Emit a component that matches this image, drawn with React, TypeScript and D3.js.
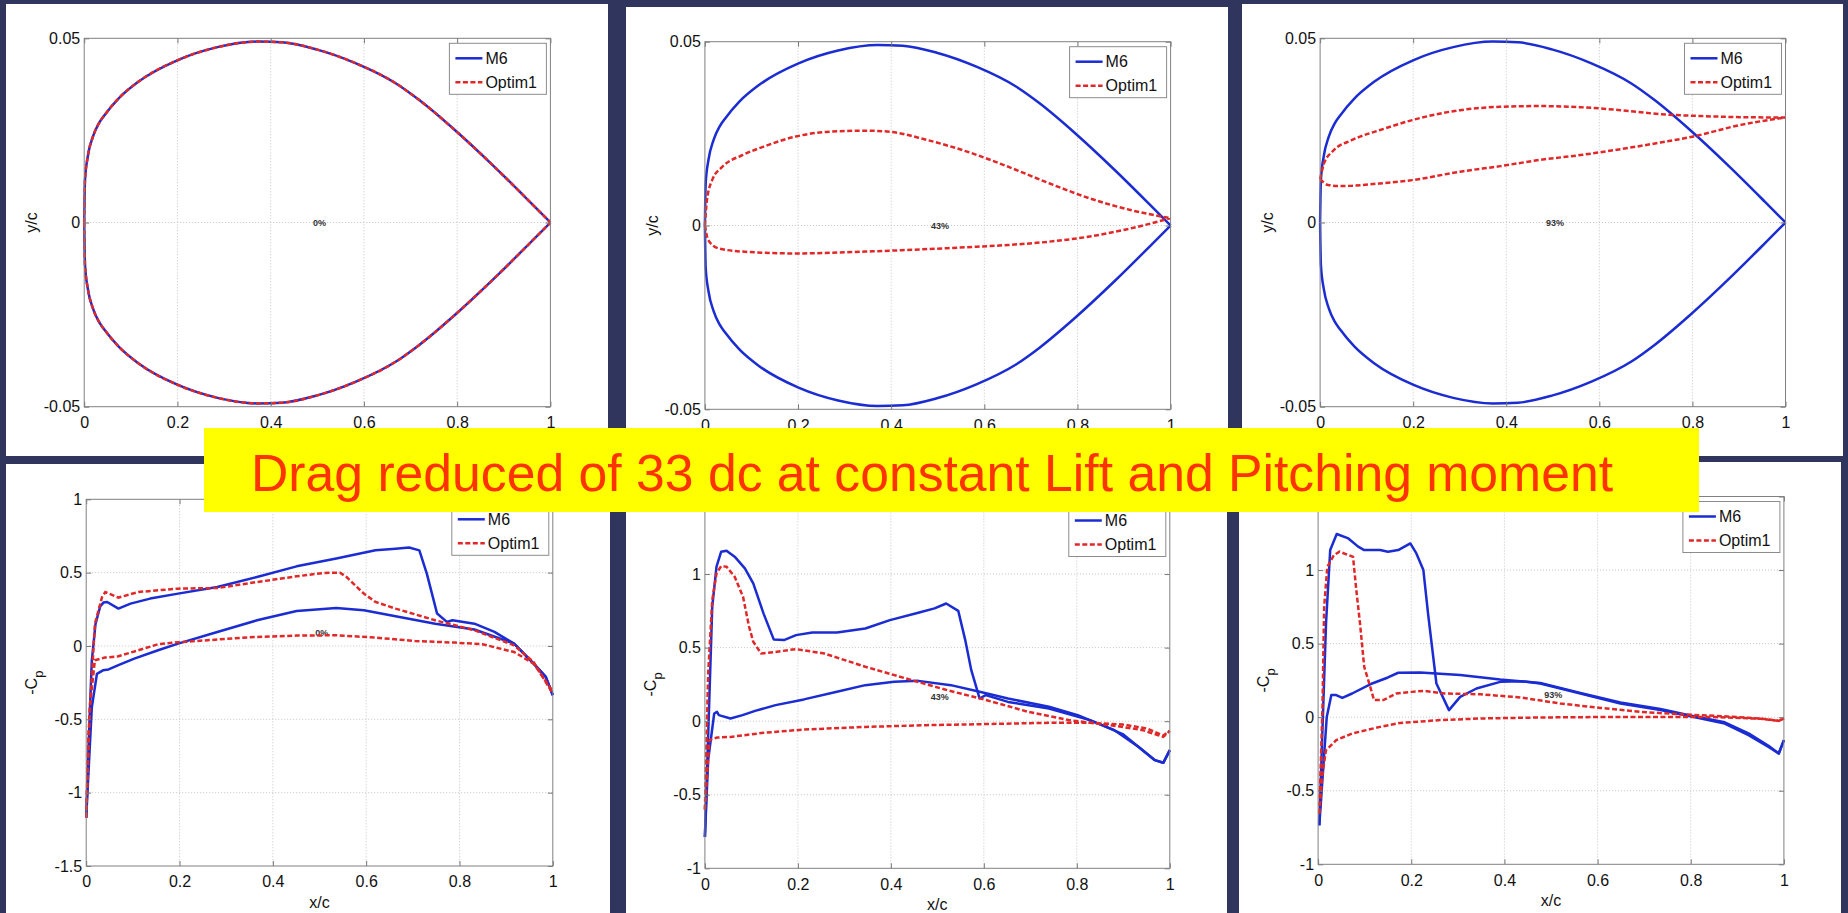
import React, {useEffect, useRef} from 'react';
import * as d3 from 'd3';

type Pt = [number, number];

// ---- section shapes, y/c against x/c (M6 section is the same at every station) ----
const m6Upper: Pt[] = [
  [0, 0], [0.0017, 0.0115], [0.0077, 0.0179], [0.0187, 0.0233], [0.0315, 0.0269], [0.044, 0.0292],
  [0.074, 0.0337], [0.116, 0.0382], [0.201, 0.0441], [0.286, 0.0476], [0.371, 0.0491], [0.425, 0.0489],
  [0.498, 0.047], [0.583, 0.0432], [0.668, 0.0378], [0.718, 0.0333], [0.795, 0.0251], [0.88, 0.0151],
  [0.956, 0.0056], [1, 0]
];
const m6Lower: Pt[] = [
  [0, 0], [0.0017, -0.0115], [0.0077, -0.0179], [0.0187, -0.0233], [0.0315, -0.0269], [0.044, -0.0292],
  [0.074, -0.0337], [0.116, -0.0382], [0.201, -0.0441], [0.286, -0.0476], [0.371, -0.0491], [0.425, -0.0489],
  [0.498, -0.047], [0.583, -0.0432], [0.668, -0.0378], [0.718, -0.0333], [0.795, -0.0251], [0.88, -0.0151],
  [0.956, -0.0056], [1, 0]
];
// root (0%) was not changed: Optim1 = M6 there
const opt43Upper: Pt[] = [
  [0, 0], [0.0044, 0.0069], [0.0158, 0.0124], [0.0377, 0.016], [0.0815, 0.0192], [0.125, 0.0214],
  [0.195, 0.0242], [0.266, 0.0255], [0.344, 0.0258], [0.397, 0.0255], [0.476, 0.0233], [0.563, 0.0201],
  [0.651, 0.016], [0.739, 0.0115], [0.826, 0.0074], [0.914, 0.0042], [1, 0.002]
];
const opt43Lower: Pt[] = [
  [0, 0], [0.007, -0.0039], [0.029, -0.0062], [0.0815, -0.0071], [0.195, -0.0076], [0.344, -0.0071],
  [0.563, -0.0059], [0.651, -0.0053], [0.739, -0.0044], [0.826, -0.003], [0.914, -0.0008], [1, 0.002]
];
const opt93Upper: Pt[] = [
  [0, 0.0118], [0.0086, 0.0161], [0.026, 0.0192], [0.069, 0.0224], [0.129, 0.0251], [0.198, 0.0278],
  [0.301, 0.0305], [0.387, 0.0314], [0.473, 0.0316], [0.559, 0.0313], [0.645, 0.0305], [0.731, 0.0294],
  [0.818, 0.0289], [0.904, 0.0286], [1, 0.0285]
];
const opt93Lower: Pt[] = [
  [0, 0.0118], [0.017, 0.0102], [0.043, 0.0099], [0.129, 0.0106], [0.198, 0.0115], [0.301, 0.0138],
  [0.387, 0.0153], [0.473, 0.017], [0.559, 0.0183], [0.645, 0.0199], [0.731, 0.0217], [0.8, 0.0233],
  [0.904, 0.0265], [1, 0.0285]
];

// ---- pressure, -Cp against x/c ----
const cp0M6Up: Pt[] = [
  [0, -1.17], [0.006, -0.6], [0.012, -0.1], [0.02, 0.15], [0.03, 0.27], [0.037, 0.296], [0.045, 0.3],
  [0.069, 0.255], [0.095, 0.289], [0.137, 0.323], [0.197, 0.357], [0.281, 0.402], [0.366, 0.47],
  [0.451, 0.543], [0.536, 0.596], [0.62, 0.652], [0.663, 0.663], [0.692, 0.671], [0.714, 0.652],
  [0.73, 0.493], [0.752, 0.221], [0.773, 0.164], [0.785, 0.175], [0.832, 0.152], [0.875, 0.096],
  [0.917, 0.016], [0.959, -0.12], [0.985, -0.211], [1, -0.336]
];
const cp0M6Low: Pt[] = [
  [0, -1.17], [0.012, -0.42], [0.023, -0.19], [0.036, -0.166], [0.048, -0.16], [0.069, -0.13],
  [0.103, -0.086], [0.154, -0.029], [0.197, 0.016], [0.281, 0.095], [0.366, 0.175], [0.451, 0.239],
  [0.536, 0.259], [0.595, 0.243], [0.663, 0.202], [0.748, 0.152], [0.832, 0.112], [0.917, 0.016],
  [0.959, -0.12], [0.985, -0.211], [1, -0.336]
];
const cp0OptUp: Pt[] = [
  [0, -1.17], [0.005, -0.6], [0.0187, 0.152], [0.034, 0.334], [0.041, 0.368], [0.069, 0.33],
  [0.112, 0.368], [0.197, 0.391], [0.281, 0.395], [0.366, 0.436], [0.451, 0.475], [0.51, 0.498],
  [0.544, 0.5], [0.558, 0.47], [0.595, 0.357], [0.62, 0.3], [0.663, 0.255], [0.748, 0.175],
  [0.832, 0.107], [0.917, 0.005], [0.959, -0.11], [1, -0.325]
];
const cp0OptLow: Pt[] = [
  [0, -1.17], [0.008, -0.4], [0.0187, -0.097], [0.04, -0.079], [0.069, -0.07], [0.112, -0.029],
  [0.154, 0.012], [0.197, 0.025], [0.281, 0.044], [0.366, 0.062], [0.451, 0.071], [0.536, 0.073],
  [0.62, 0.057], [0.705, 0.034], [0.79, 0.023], [0.849, 0.012], [0.917, -0.041], [0.959, -0.12], [1, -0.31]
];

const cp43M6Up: Pt[] = [
  [0, -0.787], [0.008, 0], [0.0158, 0.778], [0.025, 1.05], [0.035, 1.152], [0.0465, 1.159], [0.064, 1.118],
  [0.086, 1.039], [0.104, 0.937], [0.126, 0.733], [0.148, 0.556], [0.17, 0.551], [0.196, 0.585],
  [0.231, 0.603], [0.284, 0.603], [0.345, 0.63], [0.398, 0.687], [0.459, 0.737], [0.494, 0.767],
  [0.519, 0.8], [0.545, 0.75], [0.56, 0.551], [0.573, 0.347], [0.591, 0.154], [0.604, 0.177],
  [0.652, 0.131], [0.74, 0.086], [0.828, 0.007], [0.881, -0.061], [0.933, -0.175], [0.968, -0.265],
  [0.986, -0.283], [1, -0.197]
];
const cp43M6Low: Pt[] = [
  [0, -0.787], [0.007, -0.265], [0.02, 0.052], [0.026, 0.063], [0.03, 0.041], [0.055, 0.018],
  [0.081, 0.041], [0.108, 0.07], [0.152, 0.109], [0.213, 0.148], [0.284, 0.2], [0.345, 0.245],
  [0.407, 0.268], [0.459, 0.274], [0.529, 0.245], [0.591, 0.2], [0.652, 0.154], [0.74, 0.098],
  [0.802, 0.041], [0.854, -0.027], [0.9, -0.09], [0.933, -0.175], [0.968, -0.265], [0.986, -0.283], [1, -0.197]
];
const cp43OptUp: Pt[] = [
  [0, -0.6], [0.007, 0.324], [0.0158, 0.823], [0.025, 1.005], [0.035, 1.054], [0.0465, 1.05],
  [0.064, 0.982], [0.082, 0.846], [0.095, 0.642], [0.104, 0.54], [0.121, 0.46], [0.152, 0.471],
  [0.196, 0.49], [0.257, 0.46], [0.345, 0.37], [0.433, 0.29], [0.521, 0.211], [0.6, 0.148],
  [0.696, 0.063], [0.784, 0.007], [0.872, -0.027], [0.942, -0.061], [0.986, -0.107], [1, -0.066]
];
const cp43OptLow: Pt[] = [
  [0, -0.6], [0.0097, -0.129], [0.026, -0.111], [0.055, -0.107], [0.126, -0.079], [0.213, -0.057],
  [0.345, -0.039], [0.477, -0.027], [0.6, -0.02], [0.74, -0.011], [0.828, -0.011], [0.898, -0.022],
  [0.951, -0.05], [0.986, -0.098], [1, -0.066]
];

const cp93M6Up: Pt[] = [
  [0.0026, -0.735], [0.011, 0.07], [0.017, 0.637], [0.026, 1.136], [0.04, 1.245], [0.065, 1.215],
  [0.086, 1.159], [0.099, 1.136], [0.133, 1.136], [0.15, 1.125], [0.172, 1.136], [0.198, 1.181],
  [0.211, 1.113], [0.226, 1.0], [0.236, 0.705], [0.254, 0.229], [0.281, 0.048], [0.305, 0.138],
  [0.34, 0.195], [0.391, 0.24], [0.434, 0.245], [0.477, 0.229], [0.563, 0.161], [0.649, 0.093],
  [0.735, 0.048], [0.804, 0.002], [0.873, -0.043], [0.924, -0.122], [0.967, -0.202], [0.989, -0.247], [1, -0.156]
];
const cp93M6Low: Pt[] = [
  [0.0026, -0.735], [0.012, -0.3], [0.0186, 0.002], [0.0284, 0.15], [0.039, 0.15], [0.052, 0.131],
  [0.073, 0.161], [0.116, 0.229], [0.15, 0.27], [0.172, 0.302], [0.219, 0.304], [0.305, 0.286],
  [0.391, 0.256], [0.434, 0.245], [0.477, 0.232], [0.563, 0.165], [0.649, 0.1], [0.735, 0.055],
  [0.804, 0.008], [0.873, -0.035], [0.924, -0.11], [0.967, -0.195], [0.989, -0.247], [1, -0.156]
];
const cp93OptUp: Pt[] = [
  [0.0026, -0.655], [0.0094, 0.07], [0.013, 0.75], [0.0198, 1.022], [0.034, 1.102], [0.046, 1.125],
  [0.065, 1.102], [0.075, 1.09], [0.082, 0.864], [0.09, 0.637], [0.099, 0.342], [0.112, 0.206],
  [0.12, 0.116], [0.14, 0.116], [0.168, 0.161], [0.201, 0.172], [0.227, 0.179], [0.271, 0.161],
  [0.348, 0.156], [0.434, 0.134], [0.52, 0.093], [0.606, 0.063], [0.692, 0.036], [0.778, 0.02],
  [0.864, 0.007], [0.95, -0.009], [0.989, -0.025], [1, -0.009]
];
const cp93OptLow: Pt[] = [
  [0.0026, -0.655], [0.0094, -0.383], [0.017, -0.224], [0.039, -0.156], [0.073, -0.111], [0.133, -0.066],
  [0.176, -0.039], [0.262, -0.02], [0.348, -0.009], [0.477, -0.002], [0.649, 0.002], [0.778, 0.002],
  [0.864, 0], [0.95, -0.011], [0.989, -0.025], [1, -0.009]
];

const xTicks = [0, 0.2, 0.4, 0.6, 0.8, 1];
const shapeTicks = [-0.05, 0, 0.05];
const cpTicksRoot = [-1.5, -1, -0.5, 0, 0.5, 1];
const cpTicks = [-1, -0.5, 0, 0.5, 1, 1.5];
const stations = ['0%', '43%', '93%'];
const seriesNames = ['M6', 'Optim1'];
const banner = 'Drag reduced of 33 dc at constant Lift and Pitching moment';

const W = 1848;
const H = 913;
const FONT = '"Liberation Sans", Arial, Helvetica, sans-serif';
const BLUE = '#1a2cd2';
const RED = '#e02828';

// frame = white sheet [x, y, w, h], plot = axes box [left, top, right, bottom]
// hidden = tick label that sits under the yellow banner
const panels = [
  {frame: [6, 4, 602, 452], plot: [84.2, 38.3, 550.4, 406.7], dom: [-0.05, 0.05], ticks: shapeTicks, cp: false,
    m6: [m6Upper, m6Lower], opt: [m6Upper, m6Lower], station: 0, tagY: 0, hidden: null},
  {frame: [626, 7, 602, 449], plot: [704.9, 41.7, 1170.6, 409.3], dom: [-0.05, 0.05], ticks: shapeTicks, cp: false,
    m6: [m6Upper, m6Lower], opt: [opt43Upper, opt43Lower], station: 1, tagY: 0, hidden: null},
  {frame: [1242, 4, 601, 452], plot: [1320.1, 38.3, 1785.5, 406.7], dom: [-0.05, 0.05], ticks: shapeTicks, cp: false,
    m6: [m6Upper, m6Lower], opt: [opt93Upper, opt93Lower], station: 2, tagY: 0, hidden: null},
  {frame: [6, 464, 604, 449], plot: [86.2, 499.3, 552.8, 866], dom: [-1.5, 1], ticks: cpTicksRoot, cp: true,
    m6: [cp0M6Up, cp0M6Low], opt: [cp0OptUp, cp0OptLow], station: 0, tagY: 0.089, hidden: null},
  {frame: [626, 464, 601, 449], plot: [704.9, 500.5, 1169.8, 868.3], dom: [-1, 1.5], ticks: cpTicks, cp: true,
    m6: [cp43M6Up, cp43M6Low], opt: [cp43OptUp, cp43OptLow], station: 1, tagY: 0.165, hidden: 1.5},
  {frame: [1239, 462, 602, 451], plot: [1318.1, 496.5, 1783.9, 864.3], dom: [-1, 1.5], ticks: cpTicks, cp: true,
    m6: [cp93M6Up, cp93M6Low], opt: [cp93OptUp, cp93OptLow], station: 2, tagY: 0.15, hidden: 1.5}
];

function styleAxis(a: any) {
  a.attr('font-size', 16).attr('font-family', FONT).attr('color', '#111');
  a.select('.domain').remove();
  a.selectAll('.tick line').attr('stroke', '#777');
}

function drawPanel(svg: any, p: any) {
  const [fx, fy, fw, fh] = p.frame;
  const [l, t, r, b] = p.plot;
  const g = svg.append('g');

  g.append('rect').attr('x', fx).attr('y', fy).attr('width', fw).attr('height', fh).attr('fill', '#fff');

  const x = d3.scaleLinear().domain([0, 1]).range([l, r]);
  const y = d3.scaleLinear().domain(p.dom).range([b, t]);

  // dotted grid
  g.append('g').selectAll('line')
    .data(xTicks.slice(1, -1))
    .enter().append('line')
    .attr('x1', (d: number) => x(d)).attr('x2', (d: number) => x(d))
    .attr('y1', t).attr('y2', b)
    .attr('stroke', '#c4c4c4').attr('stroke-dasharray', '1,2');
  g.append('g').selectAll('line')
    .data(p.ticks.slice(1, -1))
    .enter().append('line')
    .attr('x1', l).attr('x2', r)
    .attr('y1', (d: number) => y(d)).attr('y2', (d: number) => y(d))
    .attr('stroke', '#c4c4c4').attr('stroke-dasharray', '1,2');

  // station tag
  g.append('text')
    .attr('x', x(0.505)).attr('y', y(p.tagY)).attr('dy', '0.35em')
    .attr('text-anchor', 'middle').attr('font-size', 9).attr('font-weight', 'bold').attr('font-family', FONT)
    .attr('fill', '#333').text(stations[p.station]);

  // curves
  const line = d3.line<Pt>()
    .x(d => x(d[0]))
    .y(d => y(d[1]))
    .curve(p.cp ? d3.curveLinear : d3.curveMonotoneX);
  p.m6.forEach((part: Pt[]) => {
    g.append('path').attr('d', line(part)).attr('fill', 'none')
      .attr('stroke', BLUE).attr('stroke-width', 2.5).attr('stroke-linejoin', 'round');
  });
  p.opt.forEach((part: Pt[]) => {
    g.append('path').attr('d', line(part)).attr('fill', 'none')
      .attr('stroke', RED).attr('stroke-width', 2.5).attr('stroke-dasharray', '5,2.5');
  });

  // axes, ticks inward on all four sides
  const tick = 5;
  const yFmt = (d: any) => (d === p.hidden ? '' : String(d));
  styleAxis(g.append('g').attr('transform', `translate(0,${b})`)
    .call(d3.axisBottom(x).tickValues(xTicks).tickSize(-tick).tickPadding(10).tickFormat((d: any) => String(d))));
  styleAxis(g.append('g').attr('transform', `translate(0,${t})`)
    .call(d3.axisTop(x).tickValues(xTicks).tickSize(-tick).tickFormat(() => '')));
  styleAxis(g.append('g').attr('transform', `translate(${l},0)`)
    .call(d3.axisLeft(y).tickValues(p.ticks).tickSize(-tick).tickPadding(4).tickFormat(yFmt)));
  styleAxis(g.append('g').attr('transform', `translate(${r},0)`)
    .call(d3.axisRight(y).tickValues(p.ticks).tickSize(-tick).tickFormat(() => '')));

  g.append('rect').attr('x', l).attr('y', t).attr('width', r - l).attr('height', b - t)
    .attr('fill', 'none').attr('stroke', '#808080');

  // axis labels
  const cy = (t + b) / 2;
  const yl = g.append('text')
    .attr('transform', `translate(${l - (p.cp ? 49 : 52.6)},${cy}) rotate(-90)`)
    .attr('text-anchor', 'middle').attr('font-size', 16).attr('font-family', FONT).attr('fill', '#111');
  if (p.cp) {
    yl.append('tspan').text('-C');
    yl.append('tspan').attr('font-size', 13).attr('dy', '0.45em').text('p');
    g.append('text')
      .attr('x', (l + r) / 2).attr('y', b + 36).attr('dy', '0.35em')
      .attr('text-anchor', 'middle').attr('font-size', 16).attr('font-family', FONT)
      .attr('fill', '#111').text('x/c');
  } else {
    yl.attr('dy', '0.35em').text('y/c');
  }

  // legend
  const lw = 97;
  const lh = 51;
  const lx = r - 4 - lw;
  const ly = t + 5;
  const leg = g.append('g');
  leg.append('rect').attr('x', lx).attr('y', ly).attr('width', lw).attr('height', lh)
    .attr('fill', '#fff').attr('stroke', '#8c8c8c');
  seriesNames.forEach((name, i) => {
    const yy = ly + 15 + i * 24;
    leg.append('line').attr('x1', lx + 6).attr('x2', lx + 33).attr('y1', yy).attr('y2', yy)
      .attr('stroke', i === 0 ? BLUE : RED).attr('stroke-width', 2.5)
      .attr('stroke-dasharray', i === 0 ? null : '5,2.5');
    leg.append('text').attr('x', lx + 36).attr('y', yy).attr('dy', '0.35em')
      .attr('font-size', 16).attr('font-family', FONT).attr('fill', '#111').text(name);
  });
}

export default function App() {
  const box = useRef<SVGSVGElement>(null);

  useEffect(() => {
    document.body.style.margin = '0';
    document.body.style.overflow = 'hidden';
    const svg = d3.select(box.current);
    svg.selectAll('*').remove();

    svg.append('rect').attr('width', W).attr('height', H).attr('fill', '#2f355d');
    panels.forEach(p => drawPanel(svg, p));

    // yellow banner over the middle
    svg.append('rect').attr('x', 204).attr('y', 428).attr('width', 1495).attr('height', 84).attr('fill', '#ffff00');
    svg.append('text')
      .attr('x', 251).attr('y', 490.5)
      .attr('font-size', 52).attr('font-family', FONT)
      .attr('textLength', 1362).attr('lengthAdjust', 'spacingAndGlyphs')
      .attr('fill', '#ff3300')
      .text(banner);
  }, []);

  return <svg ref={box} width={W} height={H} style={{display: 'block'}} />;
}
